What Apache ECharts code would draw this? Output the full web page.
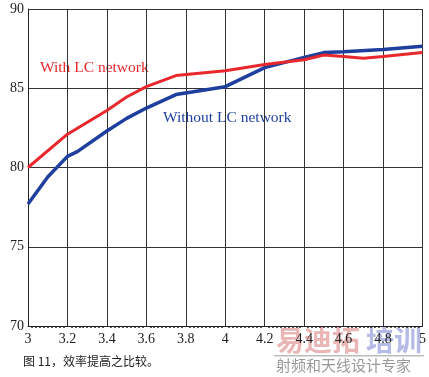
<!DOCTYPE html>
<html>
<head>
<meta charset="utf-8">
<script src="https://cdn.jsdelivr.net/npm/echarts@6/dist/echarts.min.js"></script>
<style>
  html, body { margin: 0; padding: 0; background: #fff; }
  #chart { width: 429px; height: 377px; }
</style>
</head>
<body>
<div id="chart"></div>
<script>
// 数据：频率 x 与效率 y
var withLC = [
  [3, 80], [3.2, 82.1], [3.4, 83.6], [3.5, 84.45], [3.6, 85.1], [3.75, 85.8],
  [4, 86.1], [4.2, 86.5], [4.4, 86.8], [4.5, 87.1], [4.6, 87.0], [4.7, 86.9],
  [4.8, 87.0], [5, 87.25]
];
var withoutLC = [
  [3, 77.7], [3.1, 79.4], [3.2, 80.7], [3.25, 81.0], [3.4, 82.3], [3.5, 83.1],
  [3.6, 83.75], [3.75, 84.6], [4, 85.1], [4.2, 86.3], [4.4, 86.95], [4.5, 87.25],
  [4.6, 87.3], [4.8, 87.45], [5, 87.65]
];
var seriesNames = ['With LC network', 'Without LC network'];
var caption = '图 11，效率提高之比较。';

var myChart = echarts.init(document.getElementById('chart'));

var serif = '"Liberation Serif", "DejaVu Serif", serif';

var option = {
  animation: false,
  grid: { left: 28, right: 5, top: 9, bottom: 51 },
  xAxis: {
    type: 'value',
    min: 3,
    max: 5,
    interval: 0.2,
    axisLine: { show: true, onZero: false, lineStyle: { color: '#222', width: 1 } },
    axisTick: { show: false },
    minorTick: { show: true, splitNumber: 10, length: 2, lineStyle: { color: '#222', width: 1.5 } },
    axisLabel: {
      color: '#222',
      fontFamily: serif,
      fontSize: 14,
      margin: 6,
      formatter: function(v) { return +v.toFixed(1) + ''; }
    },
    splitLine: { show: true, lineStyle: { color: '#333', width: 1 } }
  },
  yAxis: {
    type: 'value',
    min: 70,
    max: 90,
    interval: 5,
    axisLine: { show: true, lineStyle: { color: '#222', width: 1 } },
    axisTick: { show: false },
    axisLabel: { color: '#222', fontFamily: serif, fontSize: 14, margin: 4 },
    splitLine: { show: true, lineStyle: { color: '#333', width: 1 } }
  },
  series: [{
    name: seriesNames[0],
    type: 'line',
    data: withLC,
    symbol: 'none',
    lineStyle: { color: '#e8282c', width: 3 },
    z: 3
  }, {
    name: seriesNames[1],
    type: 'line',
    data: withoutLC,
    symbol: 'none',
    lineStyle: { color: '#1f3f9e', width: 3.5 },
    z: 2
  }],
  graphic: [{
    type: 'text', left: 40, top: 60,
    style: { text: seriesNames[0], fill: '#e8282c', font: '15.5px ' + serif }
  }, {
    type: 'text', left: 163, top: 110,
    style: { text: seriesNames[1], fill: '#1f3f9e', font: '15.5px ' + serif }
  }, {
    type: 'text', left: 23, top: 355,
    style: { text: caption, fill: '#222', font: '12px "Noto Sans CJK SC", sans-serif' }
  }, {
    // 水印
    type: 'text', left: 276, top: 326,
    style: { text: '易迪拓', fill: 'rgba(215,120,120,0.55)', font: 'bold 28px "Noto Sans CJK SC", sans-serif' }
  }, {
    type: 'text', left: 366, top: 326,
    style: { text: '培训', fill: 'rgba(120,130,210,0.55)', font: 'bold 28px "Noto Sans CJK SC", sans-serif' }
  }, {
    type: 'rect', shape: { x: 274, y: 355, width: 150, height: 1.5 },
    style: { fill: '#bbb' }
  }, {
    type: 'text', left: 276, top: 358,
    style: { text: '射频和天线设计专家', fill: '#999', font: '15px "Noto Sans CJK SC", sans-serif' }
  }]
};

myChart.setOption(option);
</script>
</body>
</html>
